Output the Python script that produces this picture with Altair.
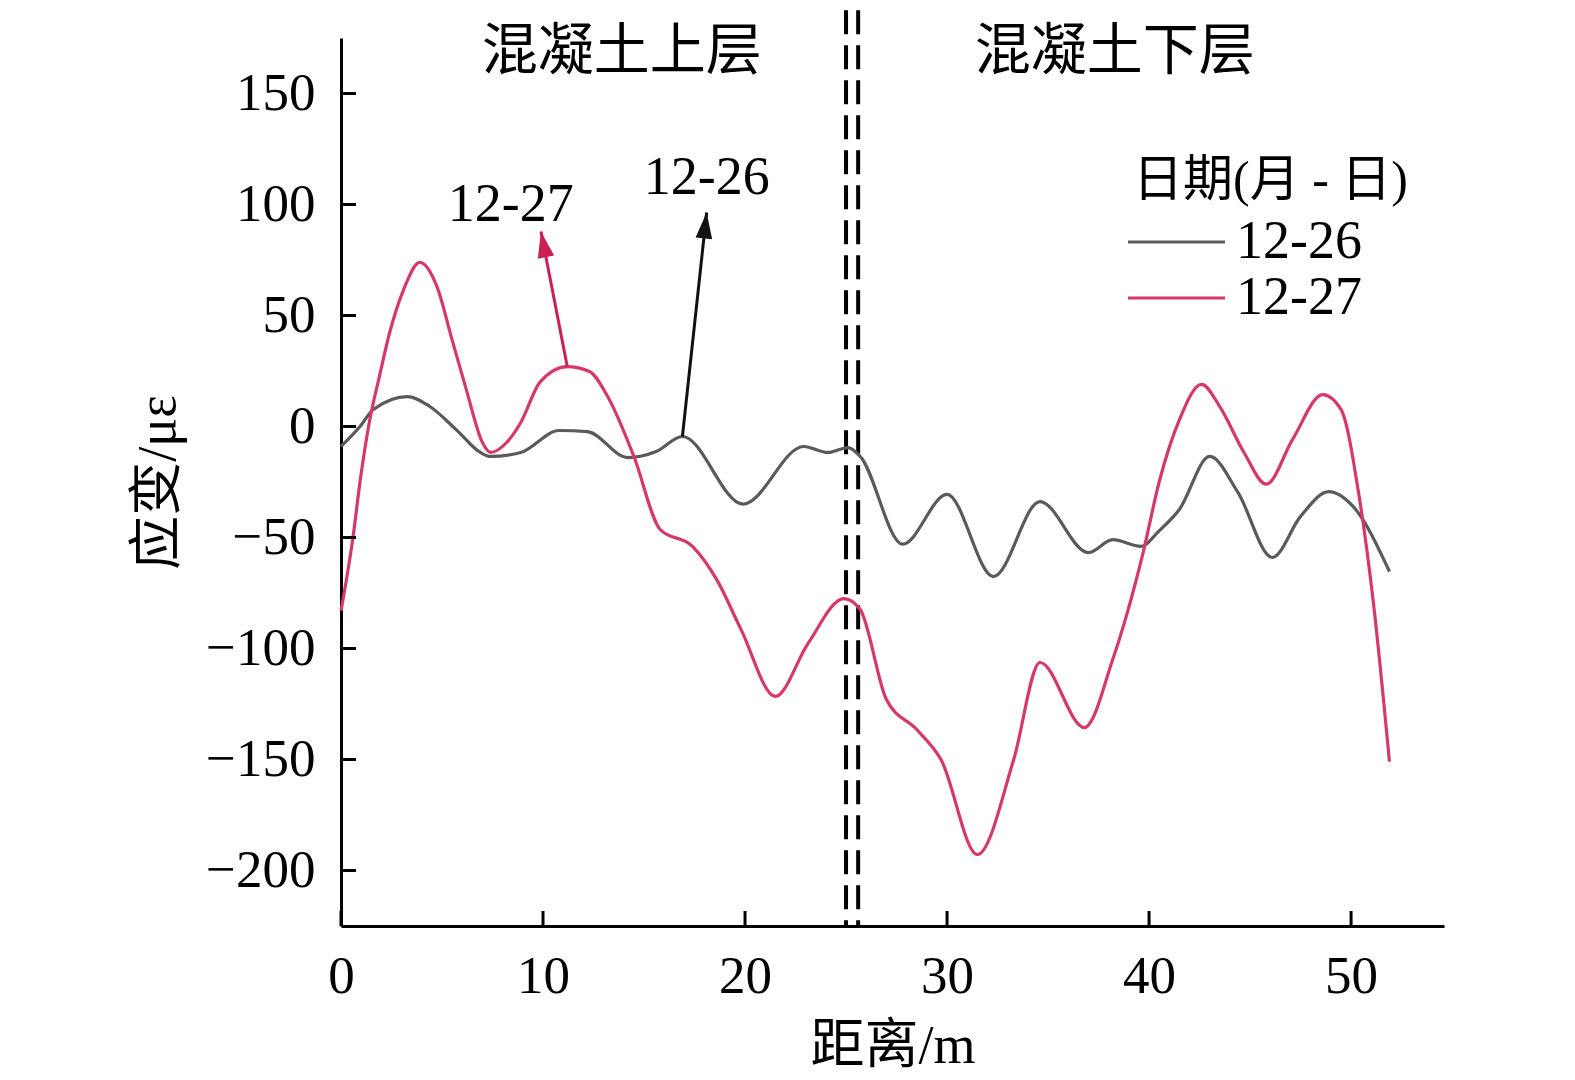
import math
import altair as alt
import pandas as pd

# ---------------- data ----------------
series_names = ["12-26", "12-27"]
series_colors = ["#5a5a5a", "#d6376d"]

dist_1226 = [0, 0.94, 1.6, 3.3, 4.4, 5.7, 6.9, 7.4, 8.9, 10.8, 12.2, 14.2, 15.6, 16.9,
             19.9, 22.9, 24.1, 25.1, 25.7, 27.8, 30.0, 32.3, 34.6, 37.0, 38.2, 39.6,
             40.5, 41.5, 43.0, 44.4, 46.1, 47.5, 48.9, 50.1, 51.9]
strain_1226 = [-9, 0, 7.7, 13.5, 9, -1.4, -11.7, -13.5, -11.7, -1.8, -2.3, -14, -11.3, -4.5,
               -35, -9, -11.7, -9.5, -13.5, -53, -30.6, -67.6, -33.8, -56.8, -51, -54,
               -47, -37.4, -13.5, -29.7, -59, -40.5, -29.3, -36, -65.3]

dist_1227 = [0, 0.6, 0.94, 1.4, 1.9, 2.4, 3.1, 3.9, 4.75, 5.5, 6.2, 7.0, 7.4, 8.2, 8.9,
             9.85, 11.2, 12.3, 13.2, 14.5, 15.8, 17.4, 18.6, 19.8, 21.5, 23.1, 24.9,
             25.7, 27.0, 28.5, 29.7, 31.5, 33.3, 34.6, 36.8, 38.2, 39.7, 40.5, 41.5,
             42.6, 43.5, 44.7, 45.8, 47.1, 48.6, 49.5, 50.4, 51.1, 51.9]
strain_1227 = [-83, -49.5, -25, 1.8, 22.5, 42, 61.7, 73.9, 63, 39, 16.7, -7.2, -11.7, -7.2,
               1.8, 20, 27, 24.8, 13.5, -13.5, -46.4, -54, -69, -91.4, -121.6, -98, -77.5,
               -82.4, -123, -136.5, -150, -192.8, -150, -106.3, -135.6, -105, -57, -25, 3,
               19, 9, -11.7, -26, -5.9, 14.4, 7.7, -31.5, -79, -151]

x_ticks = [0, 10, 20, 30, 40, 50]
y_ticks = [-200, -150, -100, -50, 0, 50, 100, 150]
x_domain = [0, 54.6]
y_domain = [-225, 175]

# vertical dashed boundary lines
boundary_x = [25.0, 25.6]
boundary_top = 187.5

# region labels
region_text = ["混凝土上层", "混凝土下层"]
region_x = [13.9, 38.3]
region_y = [168.6, 168.6]

# arrow annotations
arrow_label = ["12-27", "12-26"]
arrow_x0 = [11.2, 16.9]
arrow_y0 = [27.0, -4.5]
arrow_x1 = [9.9, 18.1]
arrow_y1 = [87.8, 96.4]
arrow_color = ["#c91f55", "#111111"]
label_x = [8.4, 18.1]
label_y = [100.0, 112.0]

legend_title = "日期(月 - 日)"

# ---------------- layout ----------------
W, H = 1103, 888
SERIF = "Liberation Serif, Noto Sans CJK SC"
kx = W / (x_domain[1] - x_domain[0])
ky = H / (y_domain[1] - y_domain[0])

lines_df = pd.DataFrame({
    "dist": dist_1226 + dist_1227,
    "strain": strain_1226 + strain_1227,
    "date": ["12-26"] * len(dist_1226) + ["12-27"] * len(dist_1227),
})

angles = []
for a, b, c, d in zip(arrow_x0, arrow_y0, arrow_x1, arrow_y1):
    dxp = (c - a) * kx
    dyp_up = (d - b) * ky
    angles.append(math.degrees(math.atan2(dxp, dyp_up)) % 360)

arrows_df = pd.DataFrame({
    "x0": arrow_x0, "y0": arrow_y0, "x1": arrow_x1, "y1": arrow_y1,
    "color": arrow_color, "angle": angles,
    "label": arrow_label, "lx": label_x, "ly": label_y,
})

xs = alt.Scale(domain=x_domain, nice=False, zero=False)
ys = alt.Scale(domain=y_domain, nice=False, zero=False)
cs = alt.Scale(domain=series_names, range=series_colors)

X = alt.X("dist:Q", scale=xs, axis=alt.Axis(values=x_ticks, title="距离/m", labelFlush=False,
                                            labelPadding=24, titlePadding=16))
Y = alt.Y("strain:Q", scale=ys, axis=alt.Axis(values=y_ticks, title="应变/με", labelFlush=False,
                                              labelPadding=26, titlePadding=20))

lines = alt.Chart(lines_df).mark_line(interpolate="monotone", strokeWidth=3.2).encode(
    x=X, y=Y, color=alt.Color("date:N", scale=cs, legend=None), detail="date:N"
)

xt = alt.Chart(pd.DataFrame({"v": x_ticks})).mark_rule(strokeWidth=3, color="black").encode(
    x=alt.X("v:Q", scale=xs), y=alt.value(H), y2=alt.value(H - 15)
)
yt = alt.Chart(pd.DataFrame({"v": y_ticks})).mark_rule(strokeWidth=3, color="black").encode(
    y=alt.Y("v:Q", scale=ys), x=alt.value(0), x2=alt.value(15)
)

bdf = pd.DataFrame({"bx": boundary_x, "top": [boundary_top] * 2, "bot": [y_domain[0]] * 2})
bounds = alt.Chart(bdf).mark_rule(strokeWidth=4, color="black", strokeDash=[24, 11]).encode(
    x=alt.X("bx:Q", scale=xs), y=alt.Y("top:Q", scale=ys), y2="bot:Q"
)

regions = alt.Chart(pd.DataFrame({"t": region_text, "x": region_x, "y": region_y})).mark_text(
    font=SERIF, fontSize=56, color="black", align="center", baseline="middle"
).encode(x=alt.X("x:Q", scale=xs), y=alt.Y("y:Q", scale=ys), text="t:N")

arrow_lines = alt.Chart(arrows_df).mark_rule(strokeWidth=3).encode(
    x=alt.X("x0:Q", scale=xs), y=alt.Y("y0:Q", scale=ys), x2="x1:Q", y2="y1:Q",
    color=alt.Color("color:N", scale=None)
)
arrow_heads = alt.Chart(arrows_df).mark_point(
    shape="M0,0L0.32,1L-0.32,1Z", filled=True, size=2704, opacity=1, strokeWidth=0
).encode(
    x=alt.X("x1:Q", scale=xs), y=alt.Y("y1:Q", scale=ys),
    color=alt.Color("color:N", scale=None), angle=alt.Angle("angle:Q", scale=None)
)
arrow_text = alt.Chart(arrows_df).mark_text(
    font=SERIF, fontSize=54, color="black", align="center", baseline="middle"
).encode(x=alt.X("lx:Q", scale=xs), y=alt.Y("ly:Q", scale=ys), text="label:N")

# legend (drawn manually to match the original layout)
leg_df = pd.DataFrame({"date": series_names, "ypx": [204, 260]})
leg_rules = alt.Chart(leg_df).mark_rule(strokeWidth=3).encode(
    x=alt.value(787), x2=alt.value(884), y=alt.Y("ypx:Q", scale=None),
    color=alt.Color("date:N", scale=cs, legend=None)
)
leg_labels = alt.Chart(leg_df).mark_text(
    font=SERIF, fontSize=54, color="black", align="left", baseline="middle"
).encode(x=alt.value(895), y=alt.Y("ypx:Q", scale=None), text="date:N")
leg_title = alt.Chart(pd.DataFrame({"t": [legend_title]})).mark_text(
    font=SERIF, fontSize=50, color="black", align="left", baseline="middle"
).encode(x=alt.value(792), y=alt.value(143), text="t:N")

chart = alt.layer(
    bounds, lines, arrow_lines, arrow_heads, arrow_text, regions, xt, yt,
    leg_rules, leg_labels, leg_title
).properties(
    width=W, height=H,
    autosize=alt.AutoSizeParams(type="none"),
    padding={"left": 333, "top": 30, "right": 115, "bottom": 154},
    background="white",
).configure_view(stroke=None).configure_axis(
    grid=False, ticks=False, domainColor="black", domainWidth=3,
    labelFont=SERIF, labelFontSize=53, labelColor="black",
    titleFont=SERIF, titleFontSize=54, titleFontWeight="normal", titleColor="black",
)

chart.save("out.html", embed_options={"renderer": "svg", "actions": False})
